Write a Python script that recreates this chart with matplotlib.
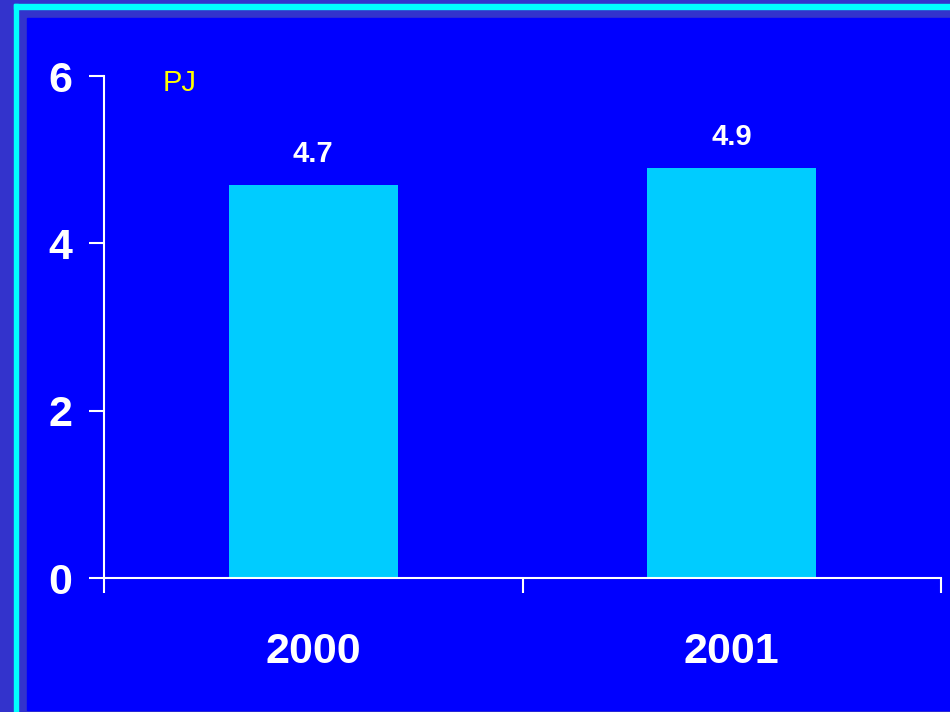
import matplotlib.pyplot as plt
from matplotlib.patches import Rectangle

# данные
years = ['2000', '2001']
values = [4.7, 4.9]
y_ticks = [0, 2, 4, 6]
unit = 'PJ'

W, H = 950, 712
fig = plt.figure(figsize=(W / 100, H / 100), dpi=100)
fig.patch.set_facecolor('#3333CC')

# рамка: голубая линия и синее поле
fig.patches.append(Rectangle((13.5 / W, 0), 4.3 / W, 1 - 4.3 / H,
                             transform=fig.transFigure, color='#00FFFF', zorder=-2))
fig.patches.append(Rectangle((13.5 / W, 1 - 9 / H), 1, 4.7 / H,
                             transform=fig.transFigure, color='#00FFFF', zorder=-2))
fig.patches.append(Rectangle((27 / W, 2 / H), 1, 1 - 20 / H,
                             transform=fig.transFigure, color='#0000FF', zorder=-2))

ax = fig.add_axes([104 / W, 1 - 578 / H, 837 / W, 502 / H])
ax.set_zorder(1)
ax.set_facecolor('none')

x = range(len(years))
bars = ax.bar(x, values, width=0.404, color='#00CCFF', zorder=2)
for b, v in zip(bars, values):
    ax.annotate(f'{v}', (b.get_x() + b.get_width() / 2, v), xytext=(0, 12),
                textcoords='offset points', ha='center', va='bottom',
                color='white', fontsize=21, fontweight='bold', family='Liberation Sans')

ax.set_xlim(-0.5, 1.5)
ax.set_ylim(0, 6)

for s in ['top', 'right']:
    ax.spines[s].set_visible(False)
for s in ['left', 'bottom']:
    ax.spines[s].set_color('white')
    ax.spines[s].set_linewidth(1.5)

ax.set_yticks(y_ticks)
ax.set_yticklabels([str(t) for t in y_ticks])
ax.tick_params(axis='y', colors='white', length=11, width=1.5, pad=12,
               labelsize=31)

ax.set_xticks([-0.5, 0.5, 1.5])
ax.set_xticklabels([])
ax.set_xticks(list(x), minor=True)
ax.set_xticklabels(years, minor=True)
ax.tick_params(axis='x', which='major', colors='white', length=11, width=1.5)
ax.tick_params(axis='x', which='minor', length=0, pad=39, labelcolor='white',
               labelsize=31)

for lbl in ax.get_yticklabels() + ax.get_xticklabels(minor=True):
    lbl.set_fontweight('bold')
    lbl.set_family('Liberation Sans')

fig.text(163 / W, 1 - 91 / H, unit, color='yellow', fontsize=21,
         family='Liberation Sans', ha='left', va='baseline', zorder=3)

fig.savefig('out.png', dpi=100, facecolor=fig.get_facecolor())
